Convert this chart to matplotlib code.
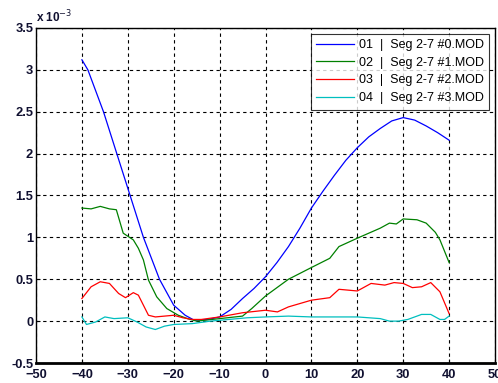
import matplotlib
matplotlib.use("Agg")
import matplotlib.pyplot as plt
from matplotlib.ticker import FuncFormatter
import numpy as np

plt.rcParams['font.family'] = ['Liberation Sans', 'DejaVu Sans']

# x positions (degrees) and series values in units of 1e-3
x_blue = [-40, -38.7, -35.3, -32.4, -29.5, -26.6, -23.1, -20, -17.5, -15.5, -12.5, -10, -7.5, -5, -2.5,
          0, 2.5, 5, 7.5, 10, 12.5, 15, 17.5, 20, 22.5, 25, 27.5, 30, 32.5, 35, 37.5, 40]
y_blue = [3.12, 3.00, 2.50, 2.00, 1.50, 1.00, 0.50, 0.19, 0.07, 0.01, 0.02, 0.05, 0.14, 0.27, 0.39,
          0.53, 0.70, 0.89, 1.11, 1.35, 1.55, 1.74, 1.92, 2.07, 2.20, 2.30, 2.39, 2.43, 2.40, 2.33, 2.25, 2.16]

x_green = [-40, -38, -36, -34, -32.5, -31, -28.8, -27.7, -26.6, -25.5, -23.7, -21.5, -19, -17, -15, -10, -5, -3,
           0, 5, 10, 14, 16, 20, 25, 27, 28.5, 30, 33, 35, 37, 38, 40]
y_green = [1.35, 1.34, 1.37, 1.34, 1.33, 1.05, 0.97, 0.87, 0.73, 0.49, 0.29, 0.15, 0.07, 0.03, 0.00, 0.03, 0.06, 0.15,
           0.30, 0.50, 0.64, 0.75, 0.89, 0.99, 1.11, 1.17, 1.16, 1.22, 1.21, 1.17, 1.06, 0.97, 0.70]

x_red = [-40, -38, -36, -34, -32, -30.5, -28.8, -27.7, -26.6, -25.5, -24, -20, -18, -16, -14, -10, -5,
         0, 2.6, 5, 10, 14, 16, 20, 23, 26, 28, 30, 32, 34, 36, 38, 40]
y_red = [0.27, 0.41, 0.47, 0.45, 0.33, 0.28, 0.34, 0.31, 0.19, 0.07, 0.05, 0.07, 0.04, 0.02, 0.02, 0.05, 0.10,
         0.13, 0.11, 0.17, 0.25, 0.28, 0.38, 0.36, 0.45, 0.43, 0.46, 0.45, 0.40, 0.41, 0.46, 0.35, 0.09]

x_cyan = [-40, -39, -37, -35, -33, -30, -28, -26, -24, -22, -20, -16, -12, -8, -4,
          0, 5, 10, 20, 25, 27, 29, 31, 34, 36, 38, 39, 40]
y_cyan = [0.05, -0.04, -0.01, 0.05, 0.03, 0.04, -0.01, -0.07, -0.10, -0.06, -0.04, -0.03, 0.00, 0.02, 0.04,
          0.05, 0.06, 0.05, 0.05, 0.03, 0.00, 0.00, 0.02, 0.08, 0.08, 0.02, 0.02, 0.06]

labels = ['01  |  Seg 2-7 #0.MOD', '02  |  Seg 2-7 #1.MOD',
          '03  |  Seg 2-7 #2.MOD', '04  |  Seg 2-7 #3.MOD']
colors = ['#0000ff', '#008000', '#ff0000', '#00bfbf']
scale = 1e-3

fig = plt.figure(figsize=(4.98, 3.83), dpi=100)
ax = fig.add_axes([0.0723, 0.0522, 0.9217, 0.8748])

series = [(x_blue, y_blue), (x_green, y_green), (x_red, y_red), (x_cyan, y_cyan)]
for (xs, ys), c, lab in zip(series, colors, labels):
    ax.plot(xs, np.array(ys) * scale, color=c, lw=0.9, label=lab)

ax.set_xlim(-50, 50)
ax.set_ylim(-0.5e-3, 3.5e-3)
ax.set_xticks(np.arange(-50, 51, 10))
ax.set_yticks(np.arange(-0.5, 3.51, 0.5) * scale)
ax.yaxis.set_major_formatter(FuncFormatter(lambda v, p: f"{v/scale:g}"))
ax.grid(True, color='black', linestyle=(0, (3, 3)), linewidth=0.8)
ax.tick_params(direction='in', length=3, labelsize=9.3)
ax.tick_params(axis='x', pad=4)
ax.tick_params(axis='y', pad=2)
for lab in ax.get_xticklabels() + ax.get_yticklabels():
    lab.set_fontweight('bold')
    lab.set_color('#101030')
for s in ax.spines.values():
    s.set_linewidth(1.0)
ax.spines['bottom'].set_linewidth(2.0)

fig.text(0.072, 0.943, 'x 10$^{-3}$', fontsize=8.5, fontweight='bold', color='#101030')

leg = ax.legend(loc='upper right', fontsize=9, frameon=True, fancybox=False,
                borderaxespad=0.45, handlelength=3.0, labelspacing=0.45,
                borderpad=0.45, handletextpad=0.4)
leg.get_frame().set_edgecolor('black')
leg.get_frame().set_linewidth(0.8)

fig.savefig('out.png', dpi=100)
